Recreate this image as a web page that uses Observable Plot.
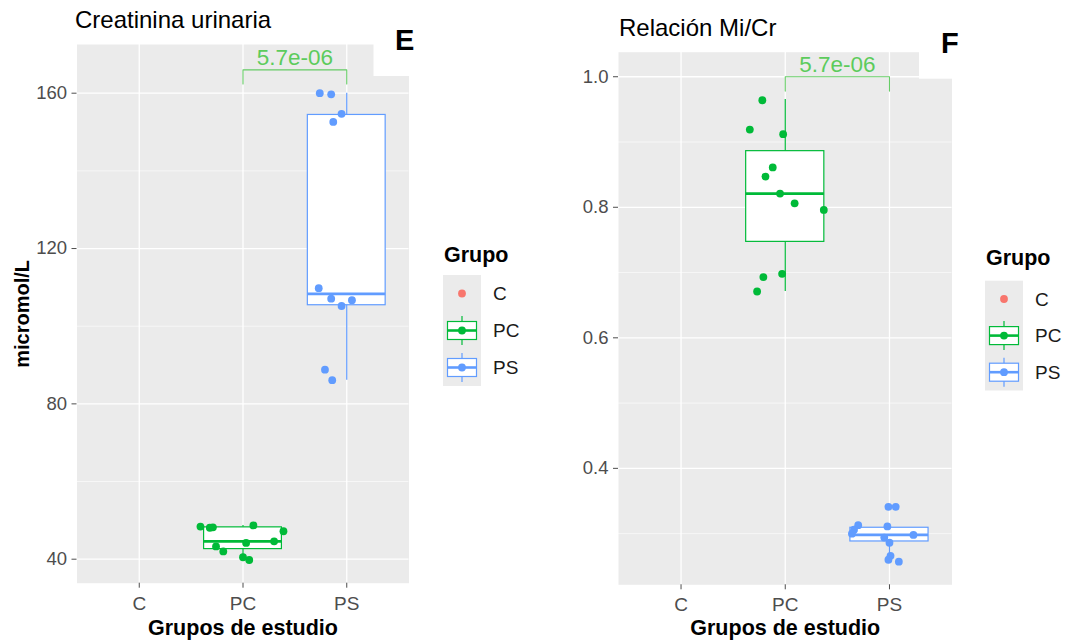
<!DOCTYPE html>
<html><head><meta charset="utf-8">
<script src="https://cdn.jsdelivr.net/npm/d3@7"></script>
<script src="https://cdn.jsdelivr.net/npm/@observablehq/plot@0.6"></script>
<style>
body{margin:0;background:#fff;font-family:"Liberation Sans",Arial,sans-serif;}
#wrap{position:relative;width:1065px;height:644px;overflow:hidden;background:#fff;}
#wrap > svg{position:absolute;top:0;overflow:visible;}
</style></head><body><div id="wrap"></div>
<script>
// ---------- data ----------
const groups = ["C", "PC", "PS"];
const groupColors = ["#F8766D", "#00BA38", "#619CFF"];
const legendTitle = "Grupo";
const xTitle = "Grupos de estudio";

// Panel E: Creatinina urinaria (micromol/L)
const creatTitle = "Creatinina urinaria";
const creatTag = "E";
const creatYLabel = "micromol/L";
const creatTicks = [40, 80, 120, 160];
const creatMinor = [60, 100, 140];
const creatPC = [48.4, 48.1, 48.2, 48.7, 47.2, 44.2, 44.6, 43.3, 42.0, 40.5, 39.8];
const creatPCJitter = [-0.41, -0.32, -0.29, 0.10, 0.39, 0.03, 0.30, -0.26, -0.19, 0.00, 0.06];
const creatPS = [160.0, 159.7, 154.7, 152.6, 109.8, 107.1, 106.7, 105.2, 88.8, 86.1];
const creatPSJitter = [-0.26, -0.15, -0.05, -0.13, -0.27, -0.15, 0.05, -0.05, -0.21, -0.14];
const creatBoxGroups = ["PC", "PS"];
const creatQ1 = [42.6, 105.4];
const creatMedian = [44.6, 108.3];
const creatQ3 = [48.2, 154.4];
const creatLo = [39.8, 86.1];
const creatHi = [48.7, 160.0];
const creatP = "5.7e-06";
const creatBracket = [166.0, 162.4]; // bar level, tick end

// Panel F: Relación Mi/Cr
const ratioTitle = "Relación Mi/Cr";
const ratioTag = "F";
const ratioTicks = [0.4, 0.6, 0.8, 1.0];
const ratioMinor = [0.3, 0.5, 0.7, 0.9];
const ratioPC = [0.964, 0.919, 0.912, 0.861, 0.847, 0.821, 0.806, 0.796, 0.698, 0.693, 0.671];
const ratioPCJitter = [-0.22, -0.34, -0.02, -0.12, -0.19, -0.05, 0.09, 0.37, -0.03, -0.21, -0.27];
const ratioPS = [0.341, 0.341, 0.313, 0.306, 0.300, 0.311, 0.298, 0.294, 0.286, 0.266, 0.260, 0.257];
const ratioPSJitter = [-0.01, 0.06, -0.30, -0.34, -0.36, -0.02, 0.23, -0.05, 0.00, 0.01, -0.01, 0.09];
const ratioBoxGroups = ["PC", "PS"];
const ratioQ1 = [0.747, 0.288];
const ratioMedian = [0.821, 0.298];
const ratioQ3 = [0.886, 0.309];
const ratioLo = [0.671, 0.260];
const ratioHi = [0.965, 0.313];
const ratioP = "5.7e-06";
const ratioBracket = [1.0, 0.978];

// ---------- drawing ----------
const FONT = "Liberation Sans, Arial, sans-serif";
const colorOf = g => groupColors[groups.indexOf(g)];
const pos = g => groups.indexOf(g) + 1;
const wrap = document.getElementById("wrap");

function panel(cfg) {
  const hw = 0.375;
  const stats = cfg.boxGroups.map((g, i) => ({g, x: pos(g), q1: cfg.q1[i], med: cfg.med[i], q3: cfg.q3[i], lo: cfg.lo[i], hi: cfg.hi[i]}));
  const marks = [
    Plot.frame({fill: "#EBEBEB", stroke: null}),
    Plot.ruleY(cfg.minor, {stroke: "#fff", strokeWidth: 0.6}),
    Plot.ruleY(cfg.ticks, {stroke: "#fff", strokeWidth: 1.3}),
    Plot.ruleX(groups.map(pos), {stroke: "#fff", strokeWidth: 1.3}),
    Plot.axisY(cfg.ticks, {tickSize: 5, tickPadding: 5, fontSize: 18.5, tickFormat: cfg.fmt, color: "#4D4D4D", label: null}),
    Plot.axisX(groups.map(pos), {tickSize: 5, tickPadding: 8, fontSize: 19, tickFormat: d => groups[d - 1], color: "#4D4D4D", label: null}),
  ];
  for (const s of stats) {
    const c = colorOf(s.g);
    marks.push(
      Plot.ruleX([s], {x: "x", y1: "q3", y2: "hi", stroke: c, strokeWidth: 1.2}),
      Plot.ruleX([s], {x: "x", y1: "lo", y2: "q1", stroke: c, strokeWidth: 1.2}),
      Plot.rect([s], {x1: d => d.x - hw, x2: d => d.x + hw, y1: "q1", y2: "q3", fill: "white", stroke: c, strokeWidth: 1.2}),
      Plot.ruleY([s], {x1: d => d.x - hw, x2: d => d.x + hw, y: "med", stroke: c, strokeWidth: 2.8})
    );
  }
  for (const ser of cfg.series) {
    const pts = ser.values.map((v, i) => ({x: pos(ser.g) + ser.jitter[i], y: v}));
    marks.push(Plot.dot(pts, {x: "x", y: "y", r: 3.9, fill: colorOf(ser.g), stroke: null}));
  }
  const [a, b] = cfg.bracketGroups.map(pos);
  const [yBar, yTick] = cfg.bracket;
  const br = [{x: a, y: yTick}, {x: a, y: yBar}, {x: b, y: yBar}, {x: b, y: yTick}];
  marks.push(
    Plot.line(br, {x: "x", y: "y", stroke: "#66CC66", strokeWidth: 1.1}),
    Plot.text([cfg.p], {x: (a + b) / 2, y: yBar, text: d => d, dy: -5, lineAnchor: "bottom", fill: "#5CCB5C", fontSize: 22.5})
  );
  marks.push(Plot.text([xTitle], {frameAnchor: "bottom", dy: cfg.xTitleDy, lineAnchor: "bottom", fontSize: 21.5, fontWeight: "bold", fill: "#000"}));
  if (cfg.yLabel) {
    marks.push(Plot.text([cfg.yLabel], {frameAnchor: "left", dx: cfg.yLabelDx, rotate: -90, textAnchor: "middle", lineAnchor: "bottom", fontSize: 20, fontWeight: "bold", fill: "#000"}));
  }
  const svg = Plot.plot({
    width: cfg.width, height: 644,
    marginLeft: cfg.ml, marginRight: cfg.mr, marginTop: cfg.mt, marginBottom: cfg.mb,
    x: {type: "linear", domain: [0.4, 3.6], label: null},
    y: {domain: cfg.yDomain, label: null},
    style: {fontFamily: FONT, background: "transparent", overflow: "visible"},
    marks
  });
  svg.style.left = cfg.left + "px";
  wrap.appendChild(svg);
}

panel({
  left: 0, width: 420, ml: 76.5, mr: 11.5, mt: 44, mb: 61.3,
  yDomain: [33.82, 172.54], ticks: creatTicks, minor: creatMinor, fmt: d => String(d),
  boxGroups: creatBoxGroups, q1: creatQ1, med: creatMedian, q3: creatQ3, lo: creatLo, hi: creatHi,
  series: [{g: "PC", values: creatPC, jitter: creatPCJitter}, {g: "PS", values: creatPS, jitter: creatPSJitter}],
  bracketGroups: ["PC", "PS"], bracket: creatBracket, p: creatP,
  xTitleDy: 51.5, yLabel: creatYLabel, yLabelDx: -48.5
});
panel({
  left: 540, width: 420, ml: 78, mr: 8.5, mt: 51.7, mb: 59.7,
  yDomain: [0.2216, 1.0376], ticks: ratioTicks, minor: ratioMinor, fmt: d3.format(".1f"),
  boxGroups: ratioBoxGroups, q1: ratioQ1, med: ratioMedian, q3: ratioQ3, lo: ratioLo, hi: ratioHi,
  series: [{g: "PC", values: ratioPC, jitter: ratioPCJitter}, {g: "PS", values: ratioPS, jitter: ratioPSJitter}],
  bracketGroups: ["PC", "PS"], bracket: ratioBracket, p: ratioP,
  xTitleDy: 50.2, yLabel: null
});

// ---------- overlay: titles, tags, legends ----------
const ov = d3.select(wrap).append("svg").attr("width", 1065).attr("height", 644)
  .style("left", "0px").style("font-family", FONT);

function decor(o) {
  // white tag box over panel corner
  ov.append("rect").attr("x", o.boxX).attr("y", o.boxY).attr("width", o.boxW).attr("height", o.boxH).attr("fill", "#fff");
  ov.append("text").attr("x", o.titleX).attr("y", o.titleY).attr("font-size", 24).attr("fill", "#000").text(o.title);
  ov.append("text").attr("x", o.tagX).attr("y", o.tagY).attr("font-size", 29).attr("font-weight", "bold").attr("fill", "#000").text(o.tag);
  // legend
  ov.append("text").attr("x", o.legX + 1).attr("y", o.legTitleY).attr("font-size", 21.5).attr("font-weight", "bold").attr("fill", "#000").text(legendTitle);
  const kw = 38, kh = o.keyH;
  ov.append("rect").attr("x", o.legX).attr("y", o.keyY).attr("width", kw).attr("height", kh * 3).attr("fill", "#EBEBEB");
  groups.forEach((g, i) => {
    const cx = o.legX + kw / 2, cy = o.keyY + kh * i + kh / 2, c = colorOf(g);
    const k = ov.append("g");
    if (g !== "C") {
      k.append("line").attr("x1", cx).attr("x2", cx).attr("y1", cy - 14.5).attr("y2", cy + 14.5).attr("stroke", c).attr("stroke-width", 1.2);
      k.append("rect").attr("x", cx - 14.5).attr("y", cy - 9).attr("width", 29).attr("height", 18).attr("fill", "#fff").attr("stroke", c).attr("stroke-width", 1.2);
      k.append("line").attr("x1", cx - 14.5).attr("x2", cx + 14.5).attr("y1", cy).attr("y2", cy).attr("stroke", c).attr("stroke-width", 2.6);
    }
    k.append("circle").attr("cx", cx).attr("cy", cy).attr("r", 3.9).attr("fill", c);
    ov.append("text").attr("x", o.legX + kw + 12).attr("y", cy + 6.8).attr("font-size", 19).attr("fill", "#1a1a1a").text(g);
  });
}
decor({boxX: 373.5, boxY: 43, boxW: 50, boxH: 33, titleX: 75, titleY: 28.3, title: creatTitle, tagX: 395, tagY: 50, tag: creatTag,
  legX: 443, legTitleY: 261.7, keyY: 275, keyH: 37});
decor({boxX: 919, boxY: 50.7, boxW: 45, boxH: 28, titleX: 619, titleY: 35.7, title: ratioTitle, tagX: 941, tagY: 53.3, tag: ratioTag,
  legX: 985, legTitleY: 265, keyY: 280.7, keyH: 36.6});
</script></body></html>
